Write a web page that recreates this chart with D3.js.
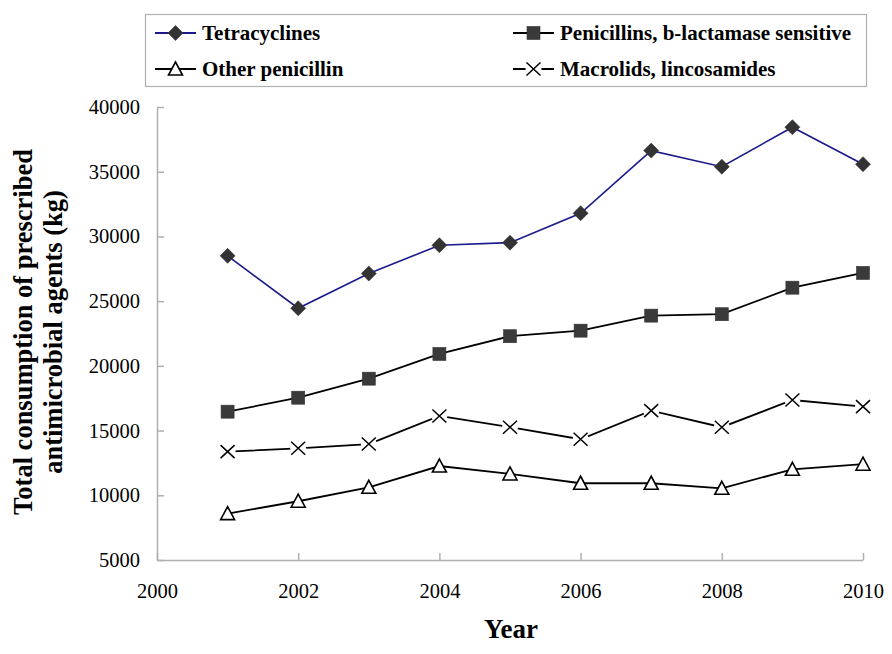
<!DOCTYPE html>
<html><head><meta charset="utf-8">
<script src="https://cdn.jsdelivr.net/npm/d3@7"></script>
<style>body{margin:0;background:#fff}svg{display:block}</style>
</head><body>
<svg id="c" width="892" height="654"></svg>
<script>
const years = [2001,2002,2003,2004,2005,2006,2007,2008,2009,2010];
const tetracyclines = [28500,24450,27130,29320,29520,31790,36630,35390,38440,35580];
const penicillinsBL = [16460,17540,19010,20920,22290,22720,23880,23990,26040,27180];
const otherPenicillin = [8580,9540,10620,12260,11650,10930,10930,10540,12010,12400];
const macrolids = [13370,13630,13960,16130,15260,14330,16540,15260,17360,16850];
const xTicks = [2000,2002,2004,2006,2008,2010];
const yTicks = [5000,10000,15000,20000,25000,30000,35000,40000];
const seriesNames = ["Tetracyclines","Penicillins, b-lactamase sensitive","Other penicillin","Macrolids, lincosamides"];

const svg = d3.select("#c");
const font = "'Liberation Serif','Times New Roman',serif";
const x = d3.scaleLinear().domain([2000,2010]).range([157,863]);
const y = d3.scaleLinear().domain([5000,40000]).range([560,107]);
const axisColor = "#b0b0b0";

// axes
const gx = svg.append("g").attr("transform","translate(0,560)")
  .call(d3.axisBottom(x).tickValues(xTicks).tickFormat(d3.format("d")).tickSizeInner(-7).tickSizeOuter(0).tickPadding(23));
const gy = svg.append("g").attr("transform","translate(157,0)")
  .call(d3.axisLeft(y).tickValues(yTicks).tickFormat(d3.format("d")).tickSizeInner(-7).tickSizeOuter(0).tickPadding(17));
[gx,gy].forEach(g=>{
  g.select(".domain").attr("stroke",axisColor).attr("stroke-width",1.5);
  g.selectAll(".tick line").attr("stroke",axisColor).attr("stroke-width",1.5);
  g.selectAll(".tick text").attr("font-family",font).attr("font-size",20.5).attr("fill","#000");
});

// titles
svg.append("text").attr("x",511).attr("y",638).attr("text-anchor","middle")
  .attr("font-family",font).attr("font-weight","bold").attr("font-size",27).text("Year");
const yt = svg.append("text").attr("transform","translate(0,332) rotate(-90)")
  .attr("text-anchor","middle").attr("font-family",font).attr("font-weight","bold").attr("font-size",26.5);
yt.append("tspan").attr("x",0).attr("y",32).text("Total consumption of prescribed");
yt.append("tspan").attr("x",0).attr("y",62).text("antimicrobial agents (kg)");

const data = [
  {name:seriesNames[0], vals:tetracyclines, color:"#1a1a8c", marker:"diamond"},
  {name:seriesNames[1], vals:penicillinsBL, color:"#000", marker:"square"},
  {name:seriesNames[2], vals:otherPenicillin, color:"#000", marker:"triangle"},
  {name:seriesNames[3], vals:macrolids, color:"#000", marker:"x"}
];

function drawMarker(g, type, cx, cy){
  if(type==="diamond"){
    g.append("path").attr("d",`M${cx},${cy-7.5}L${cx+7.5},${cy}L${cx},${cy+7.5}L${cx-7.5},${cy}Z`)
     .attr("fill","#333").attr("stroke","#333").attr("stroke-width",0.6);
  } else if(type==="square"){
    g.append("rect").attr("x",cx-6.5).attr("y",cy-6.5).attr("width",13).attr("height",13)
     .attr("fill","#3a3a3a").attr("stroke","#333").attr("stroke-width",0.6);
  } else if(type==="triangle"){
    g.append("path").attr("d",`M${cx},${cy-7}L${cx+7},${cy+6}L${cx-7},${cy+6}Z`)
     .attr("fill","#fff").attr("stroke","#000").attr("stroke-width",1.6);
  } else {
    g.append("circle").attr("cx",cx).attr("cy",cy).attr("r",8).attr("fill","#fff");
    g.append("path").attr("d",`M${cx-7},${cy-6.5}L${cx+7},${cy+6.5}M${cx-7},${cy+6.5}L${cx+7},${cy-6.5}`)
     .attr("stroke","#000").attr("stroke-width",1.5).attr("fill","none");
  }
}

const line = d3.line().x(d=>x(d[0])).y(d=>y(d[1]));
data.forEach(s=>{
  const pts = years.map((yr,i)=>[yr,s.vals[i]]);
  svg.append("path").attr("d",line(pts)).attr("fill","none").attr("stroke",s.color).attr("stroke-width",s.marker==="diamond"?1.6:1.8);
  const g = svg.append("g");
  pts.forEach(p=>drawMarker(g,s.marker,x(p[0]),y(p[1])));
});

// legend
svg.append("rect").attr("x",145.5).attr("y",14.5).attr("width",721).attr("height",72)
  .attr("fill","#fff").attr("stroke","#b0b0b0").attr("stroke-width",1.2);
const legPos = [[155,33],[513,33],[155,69],[513,69]];
data.forEach((s,i)=>{
  const [lx,ly] = legPos[i];
  const g = svg.append("g");
  g.append("line").attr("x1",lx).attr("x2",lx+41).attr("y1",ly).attr("y2",ly).attr("stroke",s.color).attr("stroke-width",1.8);
  drawMarker(g,s.marker,lx+20.5,ly);
  g.append("text").attr("x",lx+47).attr("y",ly+7).attr("font-family",font).attr("font-weight","bold")
   .attr("font-size",21).text(s.name);
});
</script>
</body></html>
